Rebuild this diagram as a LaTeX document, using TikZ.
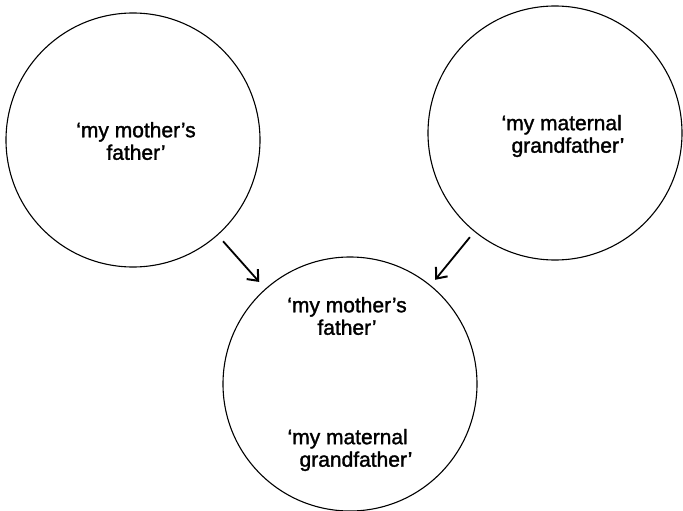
\documentclass[tikz,border=0pt]{standalone}
\usepackage{fontspec}
\setmainfont{Liberation Sans}
\newfontfamily\lblfont[Ligatures=TeX,FakeBold=1.5]{Liberation Sans}
\usetikzlibrary{arrows.meta}
\begin{document}
\begin{tikzpicture}[x=1pt,y=-1pt,
  circ/.style={draw,circle,line width=1.1pt,minimum size=254pt,inner sep=0pt},
  lbl/.style={inner sep=0pt,font=\lblfont\fontsize{21}{22.5}\selectfont},
  arr/.style={line width=1.8pt,-{Straight Barb[length=9pt,width=15pt,line width=2pt]}}]
\useasboundingbox (0,0) rectangle (683,511);
\node[circ] (L) at (133,140) {};
\node[circ] (R) at (555,133) {};
\node[circ] (B) at (350,384) {};
\node[lbl,align=center] (tl) at (136,141) {‘my mother’s\\father’};
\node[lbl,align=left] (tr) at (563,136) {‘my maternal\\\hspace*{10pt}grandfather’};
\node[lbl,align=center] (tb1) at (347,316) {‘my mother’s\\father’};
\node[lbl,align=left] (tb2) at (350,450) {‘my maternal\\\hspace*{12pt}grandfather’};
\draw[arr,shorten <=8pt,shorten >=9pt] (L) -- (B);
\draw[arr,shorten <=7pt,shorten >=7pt] (R) -- (B);
\end{tikzpicture}
\end{document}
